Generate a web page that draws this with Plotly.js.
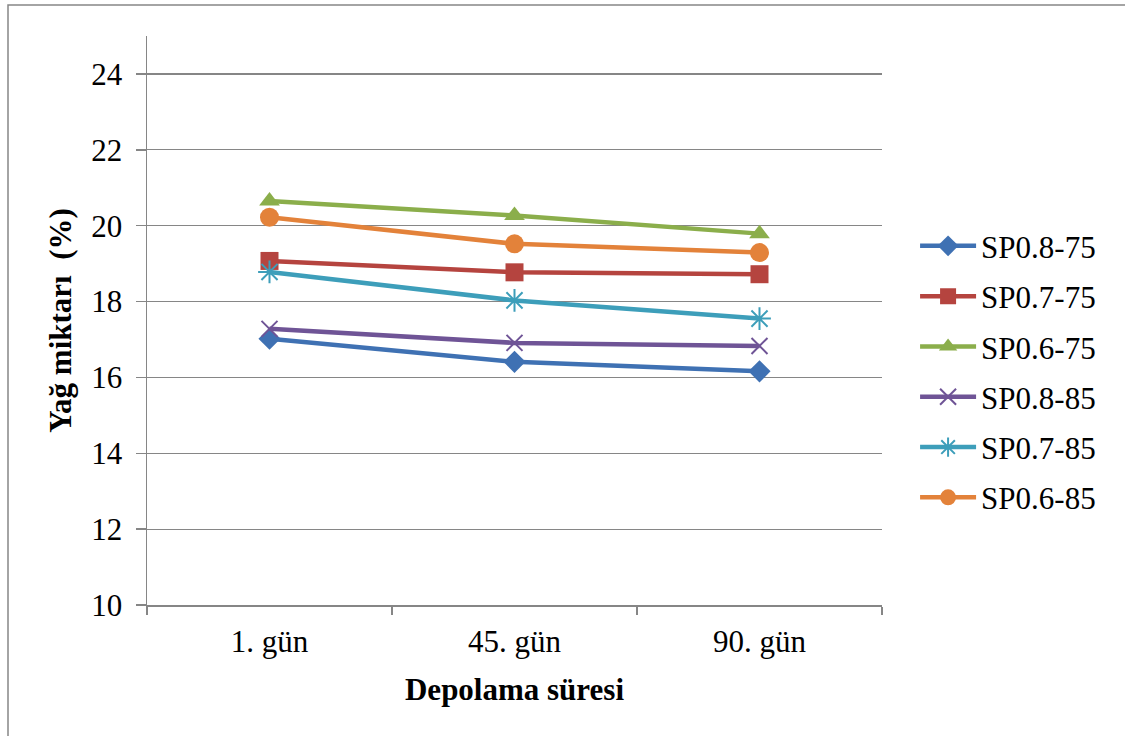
<!DOCTYPE html>
<html>
<head>
<meta charset="utf-8">
<script src="https://cdn.plot.ly/plotly-3.0.1.min.js"></script>
</head>
<body style="margin:0;background:#ffffff">
<div id="chart" style="width:1125px;height:736px"></div>
<script>
// Storage days (x categories)
const days = ["1. gün", "45. gün", "90. gün"];

// Oil content (%) for each sample
const sp08_75 = [17.02, 16.41, 16.16];
const sp07_75 = [19.07, 18.77, 18.72];
const sp06_75 = [20.65, 20.27, 19.79];
const sp08_85 = [17.28, 16.91, 16.83];
const sp07_85 = [18.78, 18.03, 17.55];
const sp06_85 = [20.22, 19.52, 19.29];

const seriesNames = ["SP0.8-75", "SP0.7-75", "SP0.6-75", "SP0.8-85", "SP0.7-85", "SP0.6-85"];
const seriesValues = [sp08_75, sp07_75, sp06_75, sp08_85, sp07_85, sp06_85];
const seriesColors = ["#3F71B3", "#B5443F", "#8BAE4B", "#6F5496", "#3D9EBA", "#E3823A"];
const seriesSymbols = ["diamond", "square", "triangle-up", "x-thin-open", "asterisk-open", "circle"];
const seriesSizes = [17, 18, 18, 16, 19, 19];

const FONT = "Liberation Serif";
const TEXT_COLOR = "#000000";

const traces = seriesNames.map((name, i) => ({
  type: "scatter",
  mode: "lines+markers",
  name: name,
  legendgroup: "g" + i,
  x: days,
  y: seriesValues[i],
  line: { color: seriesColors[i], width: 4.5 },
  marker: {
    symbol: seriesSymbols[i],
    size: seriesSizes[i],
    color: seriesColors[i],
    line: { color: seriesColors[i], width: (i === 3 || i === 4) ? 2 : 0 }
  }
}));

const layout = {
  width: 1125,
  height: 736,
  margin: { l: 147, r: 243, t: 36, b: 131 },
  font: { family: FONT, size: 31, color: TEXT_COLOR },
  showlegend: true,
  legend: {
    x: 1.045,
    xanchor: "left",
    y: 0.41,
    yanchor: "middle",
    font: { family: FONT, size: 31, color: TEXT_COLOR },
    tracegroupgap: 7,
    itemwidth: 56,
    bgcolor: "rgba(0,0,0,0)"
  },
  xaxis: {
    type: "category",
    range: [-0.5, 2.5],
    showgrid: false,
    showline: true,
    linecolor: "#868686",
    linewidth: 1.5,
    ticks: "outside",
    tickson: "boundaries",
    ticklen: 8,
    tickcolor: "#868686",
    tickwidth: 1.5,
    ticklabelstandoff: 8,
    tickfont: { family: FONT, size: 31, color: TEXT_COLOR },
    title: {
      text: "<b>Depolama süresi</b>",
      font: { family: FONT, size: 31, color: TEXT_COLOR },
      standoff: 20
    },
    zeroline: false
  },
  yaxis: {
    range: [10, 25],
    tick0: 10,
    dtick: 2,
    showgrid: true,
    gridcolor: "#868686",
    gridwidth: 1.2,
    showline: true,
    linecolor: "#868686",
    linewidth: 1.5,
    ticks: "outside",
    ticklen: 10,
    tickcolor: "#868686",
    tickwidth: 1.5,
    ticklabelstandoff: 7,
    tickfont: { family: FONT, size: 31, color: TEXT_COLOR },
    title: {
      text: "<b>Yağ miktarı \u00a0(%)</b>",
      font: { family: FONT, size: 31, color: TEXT_COLOR },
      standoff: 10
    },
    zeroline: false
  },
  shapes: [
    {
      // chart frame
      type: "rect",
      xref: "paper", yref: "paper",
      x0: (8 - 147) / 735, x1: (1140 - 147) / 735,
      y0: (605 - 750) / 569, y1: (605 - 5) / 569,
      line: { color: "#868686", width: 1.5 },
      fillcolor: "rgba(0,0,0,0)",
      layer: "below"
    }
  ]
};

Plotly.newPlot("chart", traces, layout, { staticPlot: true });
</script>
</body>
</html>
